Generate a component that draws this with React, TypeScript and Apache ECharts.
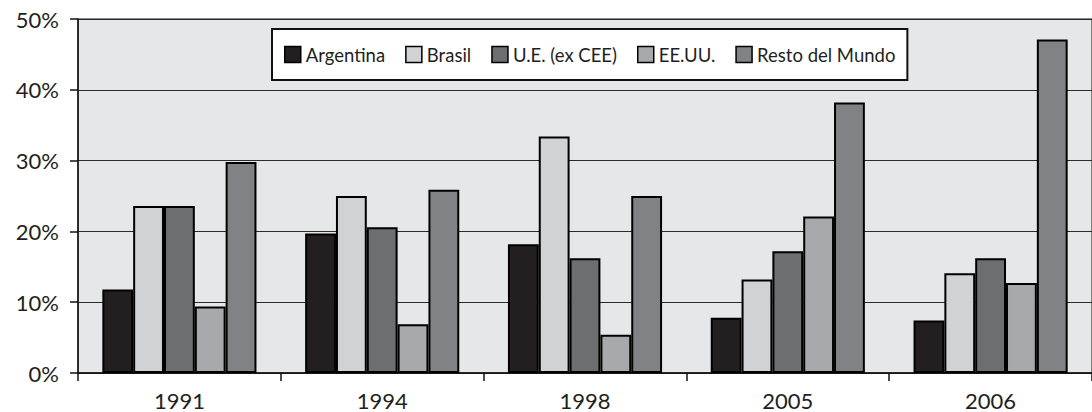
import React, { useEffect, useRef } from "react";
import * as echarts from "echarts";

// Years on the category axis
const years = ["1991", "1994", "1998", "2005", "2006"];

// Share (%) by destination
const argentina = [11.8, 19.7, 18.2, 7.8, 7.4];
const brasil = [23.6, 25.0, 33.4, 13.2, 14.1];
const ue = [23.6, 20.6, 16.2, 17.2, 16.2];
const eeuu = [9.4, 6.9, 5.4, 22.1, 12.7];
const resto = [29.8, 25.9, 25.0, 38.2, 47.1];

const seriesNames = ["Argentina", "Brasil", "U.E. (ex CEE)", "EE.UU.", "Resto del Mundo"];
const seriesValues = [argentina, brasil, ue, eeuu, resto];
const seriesColors = ["#231f20", "#d1d2d4", "#6d6e70", "#a7a9ac", "#808285"];

const FONT = "Lato, 'Noto Sans', sans-serif";

export default function App() {
  const ref = useRef<HTMLDivElement>(null);

  useEffect(() => {
    if (!ref.current) return;
    const chart = echarts.init(ref.current, null, { renderer: "svg" });
    chart.setOption({
      animation: false,
      backgroundColor: "#ffffff",
      textStyle: { fontFamily: FONT },
      grid: {
        left: 78,
        top: 19,
        width: 1017,
        height: 354,
        show: true,
        backgroundColor: "#e6e7e8",
        borderColor: "#111",
        borderWidth: 1,
      },
      legend: {
        data: seriesNames,
        left: 272,
        top: 29,
        orient: "horizontal",
        backgroundColor: "#ffffff",
        borderColor: "#111",
        borderWidth: 2,
        padding: [16, 12, 16, 12],
        itemWidth: 16,
        itemHeight: 16,
        itemGap: 20,
        icon: "rect",
        itemStyle: { borderColor: "#000", borderWidth: 1.5 },
        textStyle: { fontFamily: FONT, fontSize: 18.5, color: "#231f20" },
      },
      xAxis: {
        type: "category",
        data: years,
        axisLine: { show: true, lineStyle: { color: "#111", width: 1.5 } },
        axisTick: { show: true, length: 8, lineStyle: { color: "#111", width: 1.5 } },
        axisLabel: { fontFamily: FONT, fontSize: 22, color: "#231f20", margin: 16 },
      },
      yAxis: {
        type: "value",
        min: 0,
        max: 50,
        interval: 10,
        axisLine: { show: true, lineStyle: { color: "#111", width: 1.5 } },
        axisTick: { show: true, length: 8, lineStyle: { color: "#111", width: 1.5 } },
        axisLabel: {
          formatter: "{value}%",
          fontFamily: FONT,
          fontSize: 22,
          color: "#231f20",
          margin: 19,
        },
        splitLine: { show: true, lineStyle: { color: "#2b2b2b", width: 1 } },
      },
      series: seriesNames.map((name, i) => ({
        name,
        type: "bar",
        data: seriesValues[i],
        barGap: "0%",
        barCategoryGap: "24%",
        itemStyle: { color: seriesColors[i], borderColor: "#000", borderWidth: 2 },
      })),
    });
    return () => chart.dispose();
  }, []);

  return (
    <div
      ref={ref}
      style={{ position: "fixed", left: 0, top: 0, width: 1092, height: 412, background: "#fff" }}
    />
  );
}
